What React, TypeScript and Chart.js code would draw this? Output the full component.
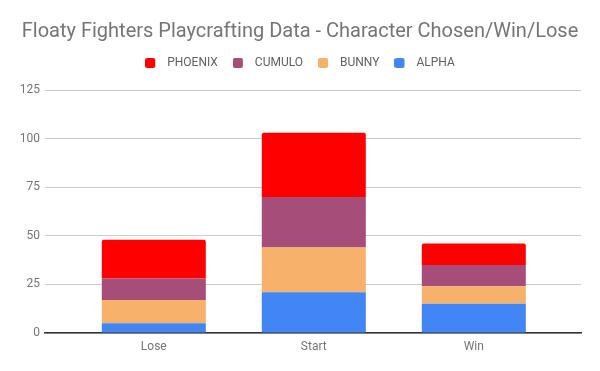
import React, { useEffect, useRef } from "react";
import { Chart, registerables } from "chart.js";

Chart.register(...registerables);

const TITLE = "Floaty Fighters Playcrafting Data - Character Chosen/Win/Lose";
const categories = ["Lose", "Start", "Win"];
const seriesNames = ["ALPHA", "BUNNY", "CUMULO", "PHOENIX"];
const alpha = [5, 21, 15];
const bunny = [12, 23, 9];
const cumulo = [11, 26, 11];
const phoenix = [20, 33, 11];
const colors = ["#4285F4", "#F6B26B", "#A64D79", "#FF0000"];
const yTicks = [0, 25, 50, 75, 100, 125];

function legendSwatch(color: string) {
  const c = document.createElement("canvas");
  c.width = 16;
  c.height = 10;
  const g = c.getContext("2d")!;
  g.fillStyle = color;
  g.beginPath();
  (g as any).roundRect(0, 0, 10, 10, 2);
  g.fill();
  return c;
}

export default function App() {
  const ref = useRef<HTMLCanvasElement | null>(null);
  useEffect(() => {
    document.body.style.margin = "0";
    const values = [alpha, bunny, cumulo, phoenix];
    const swatches = colors.map(legendSwatch);
    const datasets = seriesNames.map((name, i) => ({
      label: name,
      data: values[i].map((v, j) => ({ x: j, y: v })),
      backgroundColor: colors[i],
      borderWidth: 0,
      borderRadius: i === 3 ? { topLeft: 2, topRight: 2, bottomLeft: 0, bottomRight: 0 } : 0,
      borderSkipped: false,
      barPercentage: 0.65,
      categoryPercentage: 1,
    }));
    const chart = new Chart(ref.current!, {
      type: "bar",
      data: { datasets },
      options: {
        animation: false,
        responsive: false,
        devicePixelRatio: 1,
        layout: { padding: 0 },
        plugins: {
          title: {
            display: true,
            text: TITLE,
            color: "#757575",
            font: { family: "Roboto", size: 20, weight: "normal", lineHeight: 1 },
            padding: { top: 22, bottom: 0 },
          },
          subtitle: {
            display: true,
            text: "",
            weight: 500,
            font: { family: "Roboto", size: 1, lineHeight: 1 },
            padding: { top: 10, bottom: 0 },
          } as any,
          legend: {
            reverse: true,
            labels: {
              usePointStyle: true,
              pointStyleWidth: 16,
              boxHeight: 10,
              color: "#616161",
              font: { family: "Roboto", size: 12 },
              padding: 15,
              generateLabels: (ch: any) => {
                const items = Chart.defaults.plugins.legend.labels.generateLabels(ch);
                return items.map((it: any) => ({ ...it, pointStyle: swatches[it.datasetIndex] }));
              },
            },
          },
          tooltip: { enabled: false },
        },
        scales: {
          x: {
            type: "linear",
            stacked: true,
            offset: false,
            min: -0.68,
            max: 2.67,
            afterBuildTicks: (scale: any) => {
              scale.ticks = categories.map((_, i) => ({ value: i }));
            },
            afterFit: (scale: any) => {
              scale.height = 38;
            },
            ticks: {
              callback: (v: any) => categories[v as number] ?? "",
              color: "#757575",
              font: { family: "Roboto", size: 12 },
              padding: 7,
              maxRotation: 0,
            },
            grid: { display: false, drawTicks: false },
            border: { display: true, color: "#333333", width: 1.5 },
          },
          y: {
            stacked: true,
            min: 0,
            max: 125,
            afterBuildTicks: (scale: any) => {
              scale.ticks = yTicks.map((v) => ({ value: v }));
            },
            afterFit: (scale: any) => {
              scale.width = 45;
            },
            ticks: {
              color: "#757575",
              font: { family: "Roboto", size: 12 },
              padding: 5,
            },
            grid: { color: "#cccccc", drawTicks: false },
            border: { display: false },
          },
          yRight: {
            position: "right",
            display: true,
            afterFit: (scale: any) => {
              scale.width = 19;
            },
            ticks: { display: false },
            grid: { display: false, drawTicks: false },
            border: { display: false },
          },
        },
      },
    });
    return () => chart.destroy();
  }, []);
  return (
    <div style={{ width: 600, height: 371 }}>
      <canvas ref={ref} width={600} height={371} />
    </div>
  );
}
